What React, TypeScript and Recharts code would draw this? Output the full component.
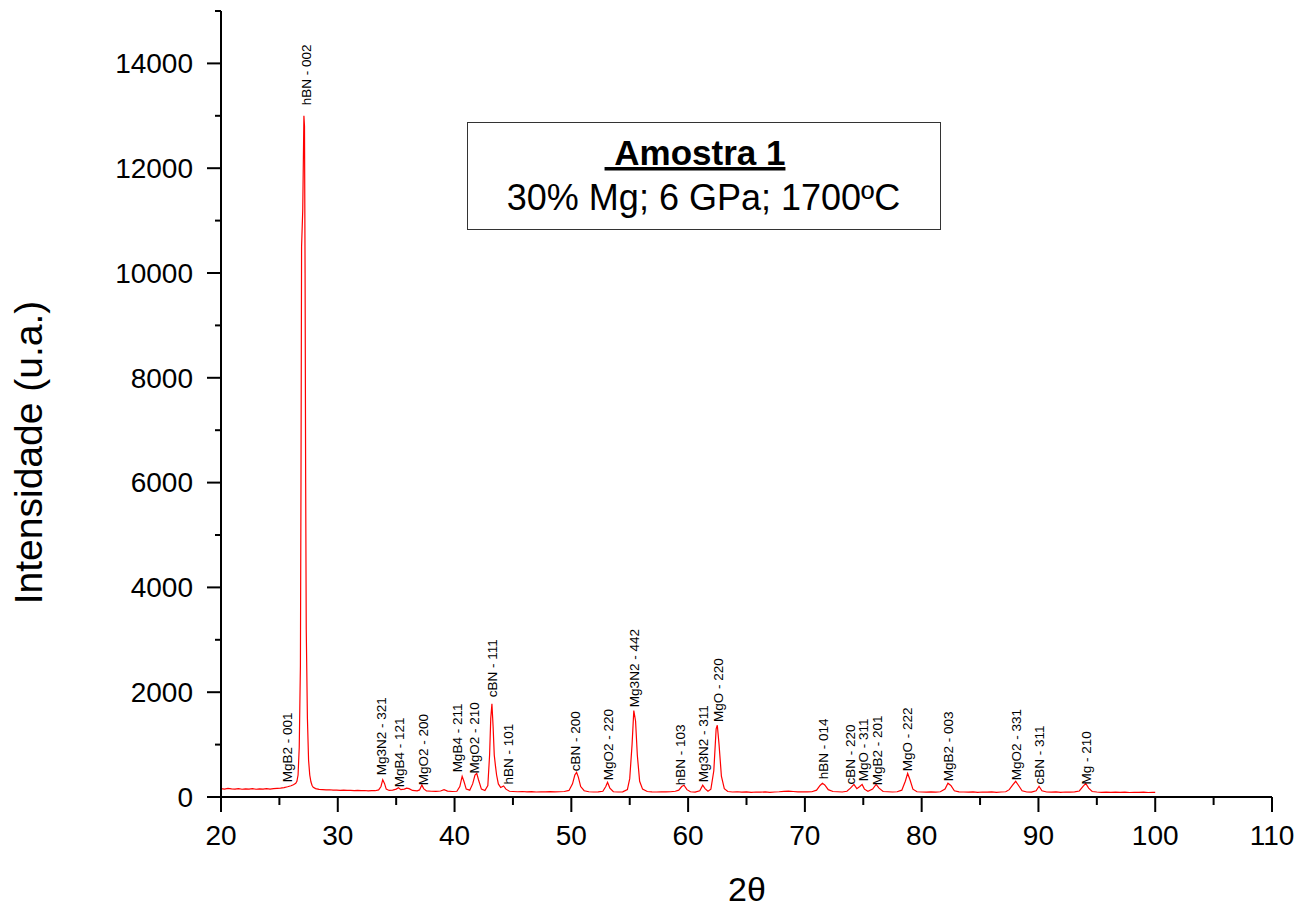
import React from 'react';
import { ComposedChart, Line, Scatter, XAxis, YAxis } from 'recharts';

// Scan: 2θ (degrees) and intensity (u.a.)
const scanAngle = [
  20.0, 20.3, 20.6, 20.9, 21.2, 21.5, 21.8, 22.1, 22.4, 22.7, 23.0, 23.3, 23.6, 23.9, 24.2, 24.5, 24.8, 25.1, 25.4, 25.7,
  26.0, 26.2, 26.4, 26.5, 26.6, 26.7, 26.8, 26.85, 26.9, 27.0, 27.1, 27.15, 27.2, 27.25, 27.3, 27.4, 27.5, 27.6, 27.7, 27.8,
  27.9, 28.1, 28.4, 28.7, 29.0, 29.3, 29.6, 29.9, 30.2, 30.5, 30.8, 31.1, 31.4, 31.7, 32.0, 32.3, 32.6, 32.9, 33.2, 33.5,
  33.7, 33.85, 34.0, 34.15, 34.4, 34.7, 35.0, 35.2, 35.4, 35.7, 35.9, 36.1, 36.4, 36.8, 37.0, 37.2, 37.35, 37.6, 38.0, 38.4,
  38.8, 39.1, 39.4, 39.8, 40.2, 40.45, 40.65, 40.8, 41.0, 41.3, 41.55, 41.75, 41.9, 42.05, 42.3, 42.6, 42.85, 43.0, 43.1, 43.2,
  43.3, 43.4, 43.5, 43.6, 43.75, 43.95, 44.2, 44.4, 44.7, 45.0, 45.4, 45.8, 46.2, 46.6, 47.0, 47.4, 47.8, 48.2, 48.6, 49.0,
  49.4, 49.8, 50.1, 50.3, 50.45, 50.6, 50.8, 51.1, 51.5, 51.9, 52.3, 52.7, 52.95, 53.1, 53.3, 53.6, 54.0, 54.4, 54.8, 55.0,
  55.2, 55.35, 55.5, 55.65, 55.85, 56.1, 56.5, 56.9, 57.3, 57.7, 58.1, 58.5, 58.9, 59.2, 59.45, 59.65, 59.9, 60.2, 60.6, 61.0,
  61.25, 61.45, 61.7, 61.95, 62.2, 62.4, 62.5, 62.65, 62.85, 63.1, 63.4, 63.8, 64.2, 64.6, 65.0, 65.4, 65.8, 66.2, 66.6, 67.0,
  67.4, 67.8, 68.2, 68.6, 69.0, 69.4, 69.8, 70.2, 70.6, 71.0, 71.3, 71.5, 71.7, 72.0, 72.4, 72.8, 73.2, 73.6, 73.9, 74.2,
  74.45, 74.7, 74.9, 75.1, 75.4, 75.8, 76.1, 76.35, 76.7, 77.1, 77.5, 77.9, 78.3, 78.6, 78.8, 79.0, 79.25, 79.6, 80.0, 80.4,
  80.8, 81.2, 81.6, 82.0, 82.25, 82.5, 82.8, 83.2, 83.6, 84.0, 84.4, 84.8, 85.2, 85.6, 86.0, 86.4, 86.8, 87.2, 87.5, 87.8,
  88.05, 88.3, 88.6, 89.0, 89.4, 89.8, 90.05, 90.3, 90.7, 91.1, 91.5, 91.9, 92.3, 92.7, 93.1, 93.5, 93.8, 94.05, 94.3, 94.6,
  95.0, 95.4, 95.8, 96.2, 96.6, 97.0, 97.4, 97.8, 98.2, 98.6, 99.0, 99.4, 99.8, 100.0,
];
const scanCounts = [
  160, 150, 165, 155, 150, 158, 148, 155, 150, 160, 148, 155, 150, 158, 152, 160, 165, 170, 180, 195,
  215, 235, 260, 300, 420, 950, 2500, 6000, 10500, 11200, 13000, 12800, 10000, 6000, 3200, 1500, 700, 420, 290, 220,
  185, 160, 145, 140, 135, 138, 130, 132, 128, 130, 125, 128, 122, 125, 120, 124, 118, 122, 120, 135,
  200, 330, 260, 150, 125, 130, 150, 175, 140, 150, 170, 160, 125, 118, 135, 230, 160, 115, 110, 108,
  115, 140, 112, 105, 110, 200, 395, 300, 150, 130, 250, 420, 450, 330, 150, 125, 220, 800, 1500, 1780,
  1350, 800, 600, 420, 250, 180, 210, 150, 110, 105, 100, 105, 98, 102, 95, 100, 96, 104, 98, 100,
  105, 125, 250, 420, 470, 380, 200, 120, 100, 95, 98, 110, 200, 280, 170, 100, 95, 98, 140, 350,
  1000, 1650, 1450, 800, 300, 150, 105, 98, 95, 100, 96, 100, 110, 130, 200, 225, 140, 100, 95, 120,
  225, 160, 110, 150, 500, 1300, 1370, 1000, 400, 160, 105, 95, 100, 92, 96, 90, 95, 92, 96, 90,
  95, 100, 108, 112, 105, 98, 100, 96, 100, 130, 220, 260, 230, 140, 105, 100, 95, 110, 170, 240,
  160, 200, 240, 150, 110, 150, 240, 170, 105, 100, 95, 100, 130, 300, 450, 330, 150, 100, 95, 92,
  98, 92, 100, 150, 262, 220, 120, 98, 95, 92, 98, 90, 95, 92, 96, 90, 95, 100, 140, 230,
  300, 220, 120, 95, 92, 120, 205, 120, 95, 92, 96, 90, 95, 92, 98, 115, 200, 260, 170, 105,
  95, 90, 92, 88, 92, 88, 92, 86, 90, 88, 92, 86, 90, 88,
];

// Peak annotations: label position (2θ), label foot (intensity), text
const peakAngle = [
  25.65, 27.28, 33.7, 35.24, 37.3, 40.2, 41.66, 43.2, 44.57, 50.3, 53.2, 55.36,
  59.3, 61.27, 62.55, 71.6, 73.85, 74.97, 76.16, 78.8, 82.3, 88.06, 90.1, 94.06,
];
const peakFoot = [
  280, 13200, 415, 185, 225, 470, 450, 1905, 240, 490, 320, 1715,
  225, 280, 1430, 340, 240, 300, 225, 490, 300, 320, 240, 240,
];
const peakName = [
  'MgB2 - 001', 'hBN - 002', 'Mg3N2 - 321', 'MgB4 - 121', 'MgO2 - 200', 'MgB4 - 211', 'MgO2 - 210', 'cBN - 111',
  'hBN - 101', 'cBN - 200', 'MgO2 - 220', 'Mg3N2 - 442', 'hBN - 103', 'Mg3N2 - 311', 'MgO - 220', 'hBN - 014',
  'cBN - 220', 'MgO - 311', 'MgB2 - 201', 'MgO - 222', 'MgB2 - 003', 'MgO2 - 331', 'cBN - 311', 'Mg - 210',
];

const xMajorTicks = [20, 30, 40, 50, 60, 70, 80, 90, 100, 110];
const xMinorTicks = [25, 35, 45, 55, 65, 75, 85, 95, 105];
const yMajorTicks = [0, 2000, 4000, 6000, 8000, 10000, 12000, 14000];
const yMinorTicks = [1000, 3000, 5000, 7000, 9000, 11000, 13000, 15000];

const scanData = scanAngle.map((x, i) => ({ x, y: scanCounts[i] }));
const peakData = peakAngle.map((x, i) => ({ x, y: peakFoot[i], name: peakName[i] }));
const xMinorData = xMinorTicks.map((x) => ({ x, y: 0 }));
const yMinorData = yMinorTicks.map((y) => ({ x: 20, y }));

const FONT = '"Liberation Sans", Arial, Helvetica, sans-serif';

const XLabelTick = (props: any) => {
  const { x, y, payload } = props;
  return (
    <text x={x} y={Number(y) + 33} textAnchor="middle" fontSize={28} fontFamily={FONT} fill="#000">
      {payload.value}
    </text>
  );
};

const YLabelTick = (props: any) => {
  const { x, y, payload } = props;
  return (
    <text x={Number(x) - 14} y={y} dy="0.35em" textAnchor="end" fontSize={28} fontFamily={FONT} fill="#000">
      {payload.value}
    </text>
  );
};

const XMinorMark = (props: any) => {
  const { cx, cy } = props;
  if (cx == null || cy == null) return <g />;
  return <path d={`M${cx},${cy}V${cy + 8}`} stroke="#000" strokeWidth={2} fill="none" />;
};

const YMinorMark = (props: any) => {
  const { cx, cy } = props;
  if (cx == null || cy == null) return <g />;
  return <path d={`M${cx - 6},${cy}H${cx}`} stroke="#000" strokeWidth={2} fill="none" />;
};

const PeakLabel = (props: any) => {
  const { cx, cy, payload } = props;
  if (cx == null || cy == null) return <g />;
  return (
    <text
      transform={`translate(${cx},${cy}) rotate(-90)`}
      dy="0.35em"
      textAnchor="start"
      fontSize={13.5}
      fontFamily={FONT}
      fill="#000"
    >
      {payload.name}
    </text>
  );
};

export default function App() {
  const W = 1297;
  const H = 894;
  return (
    <div style={{ position: 'relative', width: W, height: H, background: '#fff' }}>
      <ComposedChart width={W} height={H} margin={{ top: 3, right: 33, bottom: 0, left: 0 }}>
        <XAxis
          dataKey="x"
          type="number"
          domain={[20, 110]}
          ticks={xMajorTicks}
          interval={0}
          height={105}
          tickSize={15}
          tickMargin={0}
          tickLine={{ stroke: '#000', strokeWidth: 2 }}
          tick={<XLabelTick />}
          axisLine={{ stroke: '#000', strokeWidth: 2 }}
        />
        <YAxis
          type="number"
          domain={[0, 15000]}
          ticks={yMajorTicks}
          interval={0}
          width={213}
          tickSize={14}
          tickMargin={0}
          tickLine={{ stroke: '#000', strokeWidth: 2 }}
          tick={<YLabelTick />}
          axisLine={{ stroke: '#000', strokeWidth: 2 }}
        />
        <Line
          data={scanData}
          dataKey="y"
          type="linear"
          stroke="#ff0000"
          strokeWidth={1.2}
          dot={false}
          activeDot={false}
          isAnimationActive={false}
        />
        <Scatter data={peakData} dataKey="y" shape={<PeakLabel />} isAnimationActive={false} />
        <Scatter data={xMinorData} dataKey="y" shape={<XMinorMark />} isAnimationActive={false} />
        <Scatter data={yMinorData} dataKey="y" shape={<YMinorMark />} isAnimationActive={false} />
      </ComposedChart>
      <svg
        width={W}
        height={H}
        style={{ position: 'absolute', left: 0, top: 0, pointerEvents: 'none', overflow: 'visible' }}
      >
        <rect x={459.5} y={114.5} width={473} height={107} fill="#fff" stroke="#333" strokeWidth={1} />
        <text
          x={687}
          y={157}
          textAnchor="middle"
          fontSize={35}
          fontWeight="bold"
          fontFamily={FONT}
          fill="#000"
          textDecoration="underline"
          style={{ textDecoration: 'underline' }}
        >
          {'\u00a0Amostra 1'}
        </text>
        <text x={695.5} y={202} textAnchor="middle" fontSize={36} fontFamily={FONT} fill="#000">
          30% Mg; 6 GPa; 1700ºC
        </text>
        <text
          transform="translate(34,444.5) rotate(-90)"
          textAnchor="middle"
          fontSize={39}
          fontFamily={FONT}
          fill="#000"
        >
          Intensidade (u.a.)
        </text>
        <text x={739} y={893} textAnchor="middle" fontSize={34} fontFamily={FONT} fill="#000">
          2θ
        </text>
      </svg>
    </div>
  );
}
